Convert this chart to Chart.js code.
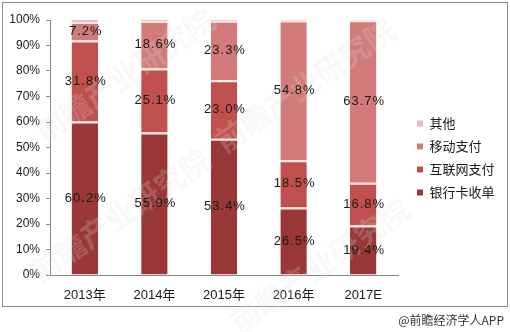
<!DOCTYPE html>
<html>
<head>
<meta charset="utf-8">
<script src="https://cdn.jsdelivr.net/npm/chart.js@4/dist/chart.umd.min.js"></script>
<style>
  html, body { margin: 0; padding: 0; background: #fff; }
  #wrap { position: relative; width: 510px; height: 332px; }
</style>
</head>
<body>
<div id="wrap"><canvas id="payChart" width="510" height="332"></canvas></div>
<script>
// 数据
const years = ['2013年', '2014年', '2015年', '2016年', '2017E'];
const bankCard = [60.2, 55.9, 53.4, 26.5, 19.4];
const internetPay = [31.8, 25.1, 23.0, 18.5, 16.8];
const mobilePay = [7.2, 18.6, 23.3, 54.8, 63.7];
const others = [0.8, 0.4, 0.3, 0.2, 0.1];
const seriesNames = ['银行卡收单', '互联网支付', '移动支付', '其他'];
const yMax = 100;
const yStep = 10;

const colors = ['#9a3737', '#c0504d', '#d27b7a', '#e8bdbc'];
const cjk = '"Liberation Sans", "Noto Sans CJK SC", sans-serif';

// 外框、水印、数据标签、署名
const decorPlugin = {
    id: 'decor',
    afterInit(chart) {
        const lg = chart.legend;
        const fit = lg.fit.bind(lg);
        lg.fit = function() { fit(); this.width = 112; };
    },
    afterLayout(chart) {
        const lg = chart.legend;
        lg.left += 9; lg.right += 9;
        lg.top -= 18; lg.bottom -= 18;
    },
    beforeDraw(chart) {
        const ctx = chart.ctx;
        ctx.save();
        ctx.fillStyle = '#fff';
        ctx.fillRect(0, 0, chart.width, chart.height);
        ctx.strokeStyle = '#8c8c8c';
        ctx.lineWidth = 1;
        ctx.strokeRect(2.5, 2.5, 505, 304);
        ctx.restore();
    },
    afterDatasetsDraw(chart) {
        const ctx = chart.ctx;
        // 水印
        ctx.save();
        ctx.fillStyle = 'rgba(225,225,225,0.22)';
        ctx.font = 'bold 30px "Noto Sans CJK SC"';
        ctx.textAlign = 'center';
        ctx.textBaseline = 'middle';
        [[120, 215], [125, 75], [305, 85], [320, 265]].forEach(p => {
            ctx.save();
            ctx.translate(p[0], p[1]);
            ctx.rotate(-0.6);
            ctx.fillText('前瞻产业研究院', 0, 0);
            ctx.restore();
        });
        ctx.restore();

        // 数据标签
        ctx.save();
        ctx.font = '13px ' + cjk;
        ctx.fillStyle = '#1a1a1a';
        ctx.textAlign = 'center';
        ctx.textBaseline = 'middle';
        if ('letterSpacing' in ctx) ctx.letterSpacing = '1px';
        chart.data.datasets.forEach((ds, i) => {
            if (i > 2) return;
            chart.getDatasetMeta(i).data.forEach((bar, j) => {
                const c = bar.getCenterPoint();
                ctx.fillText(ds.data[j].toFixed(1) + '%', c.x + 1, c.y);
            });
        });
        ctx.restore();

        // 署名
        ctx.save();
        ctx.font = '12px "Noto Sans CJK SC"';
        ctx.fillStyle = '#333';
        ctx.textAlign = 'right';
        ctx.textBaseline = 'middle';
        ctx.fillText('@前瞻经济学人APP', 504, 320);
        ctx.restore();
    }
};

const seriesData = [bankCard, internetPay, mobilePay, others];

new Chart(document.getElementById('payChart').getContext('2d'), {
    type: 'bar',
    data: {
        labels: years,
        datasets: seriesData.map((d, i) => ({
            label: seriesNames[i],
            data: d,
            backgroundColor: colors[i],
            borderColor: '#fbe4e4',
            borderWidth: i < 3 ? { top: 2, left: 0, right: 0, bottom: 0 } : 0,
            borderSkipped: false,
            categoryPercentage: 1,
            barPercentage: 0.38
        }))
    },
    options: {
        responsive: false,
        animation: false,
        layout: { padding: { left: 4, top: 20, right: 0, bottom: 0 } },
        scales: {
            x: {
                stacked: true,
                grid: { display: true, drawOnChartArea: false, drawTicks: false, color: '#868686' },
                border: { color: '#868686' },
                ticks: { color: '#1a1a1a', font: { size: 13, family: cjk }, padding: 13 },
                afterFit(scale) { scale.height = 57; }
            },
            y: {
                stacked: true,
                min: 0,
                max: yMax,
                grid: { drawOnChartArea: false, tickLength: 4, color: '#868686' },
                border: { color: '#868686' },
                ticks: {
                    stepSize: yStep,
                    color: '#1a1a1a',
                    padding: 6,
                    font: { size: 12, family: '"Liberation Sans", sans-serif' },
                    callback: v => v + '%'
                },
                afterFit(scale) { scale.width = 46; }
            }
        },
        plugins: {
            legend: {
                position: 'right',
                reverse: true,
                labels: {
                    boxWidth: 6,
                    boxHeight: 6,
                    padding: 10,
                    color: '#1a1a1a',
                    font: { size: 13, family: '"Noto Sans CJK SC", sans-serif' },
                    generateLabels(chart) {
                        return Chart.defaults.plugins.legend.labels.generateLabels(chart)
                            .map(l => Object.assign(l, { lineWidth: 0, strokeStyle: 'transparent' }));
                    }
                }
            },
            tooltip: { enabled: false }
        }
    },
    plugins: [decorPlugin]
});
</script>
</body>
</html>
